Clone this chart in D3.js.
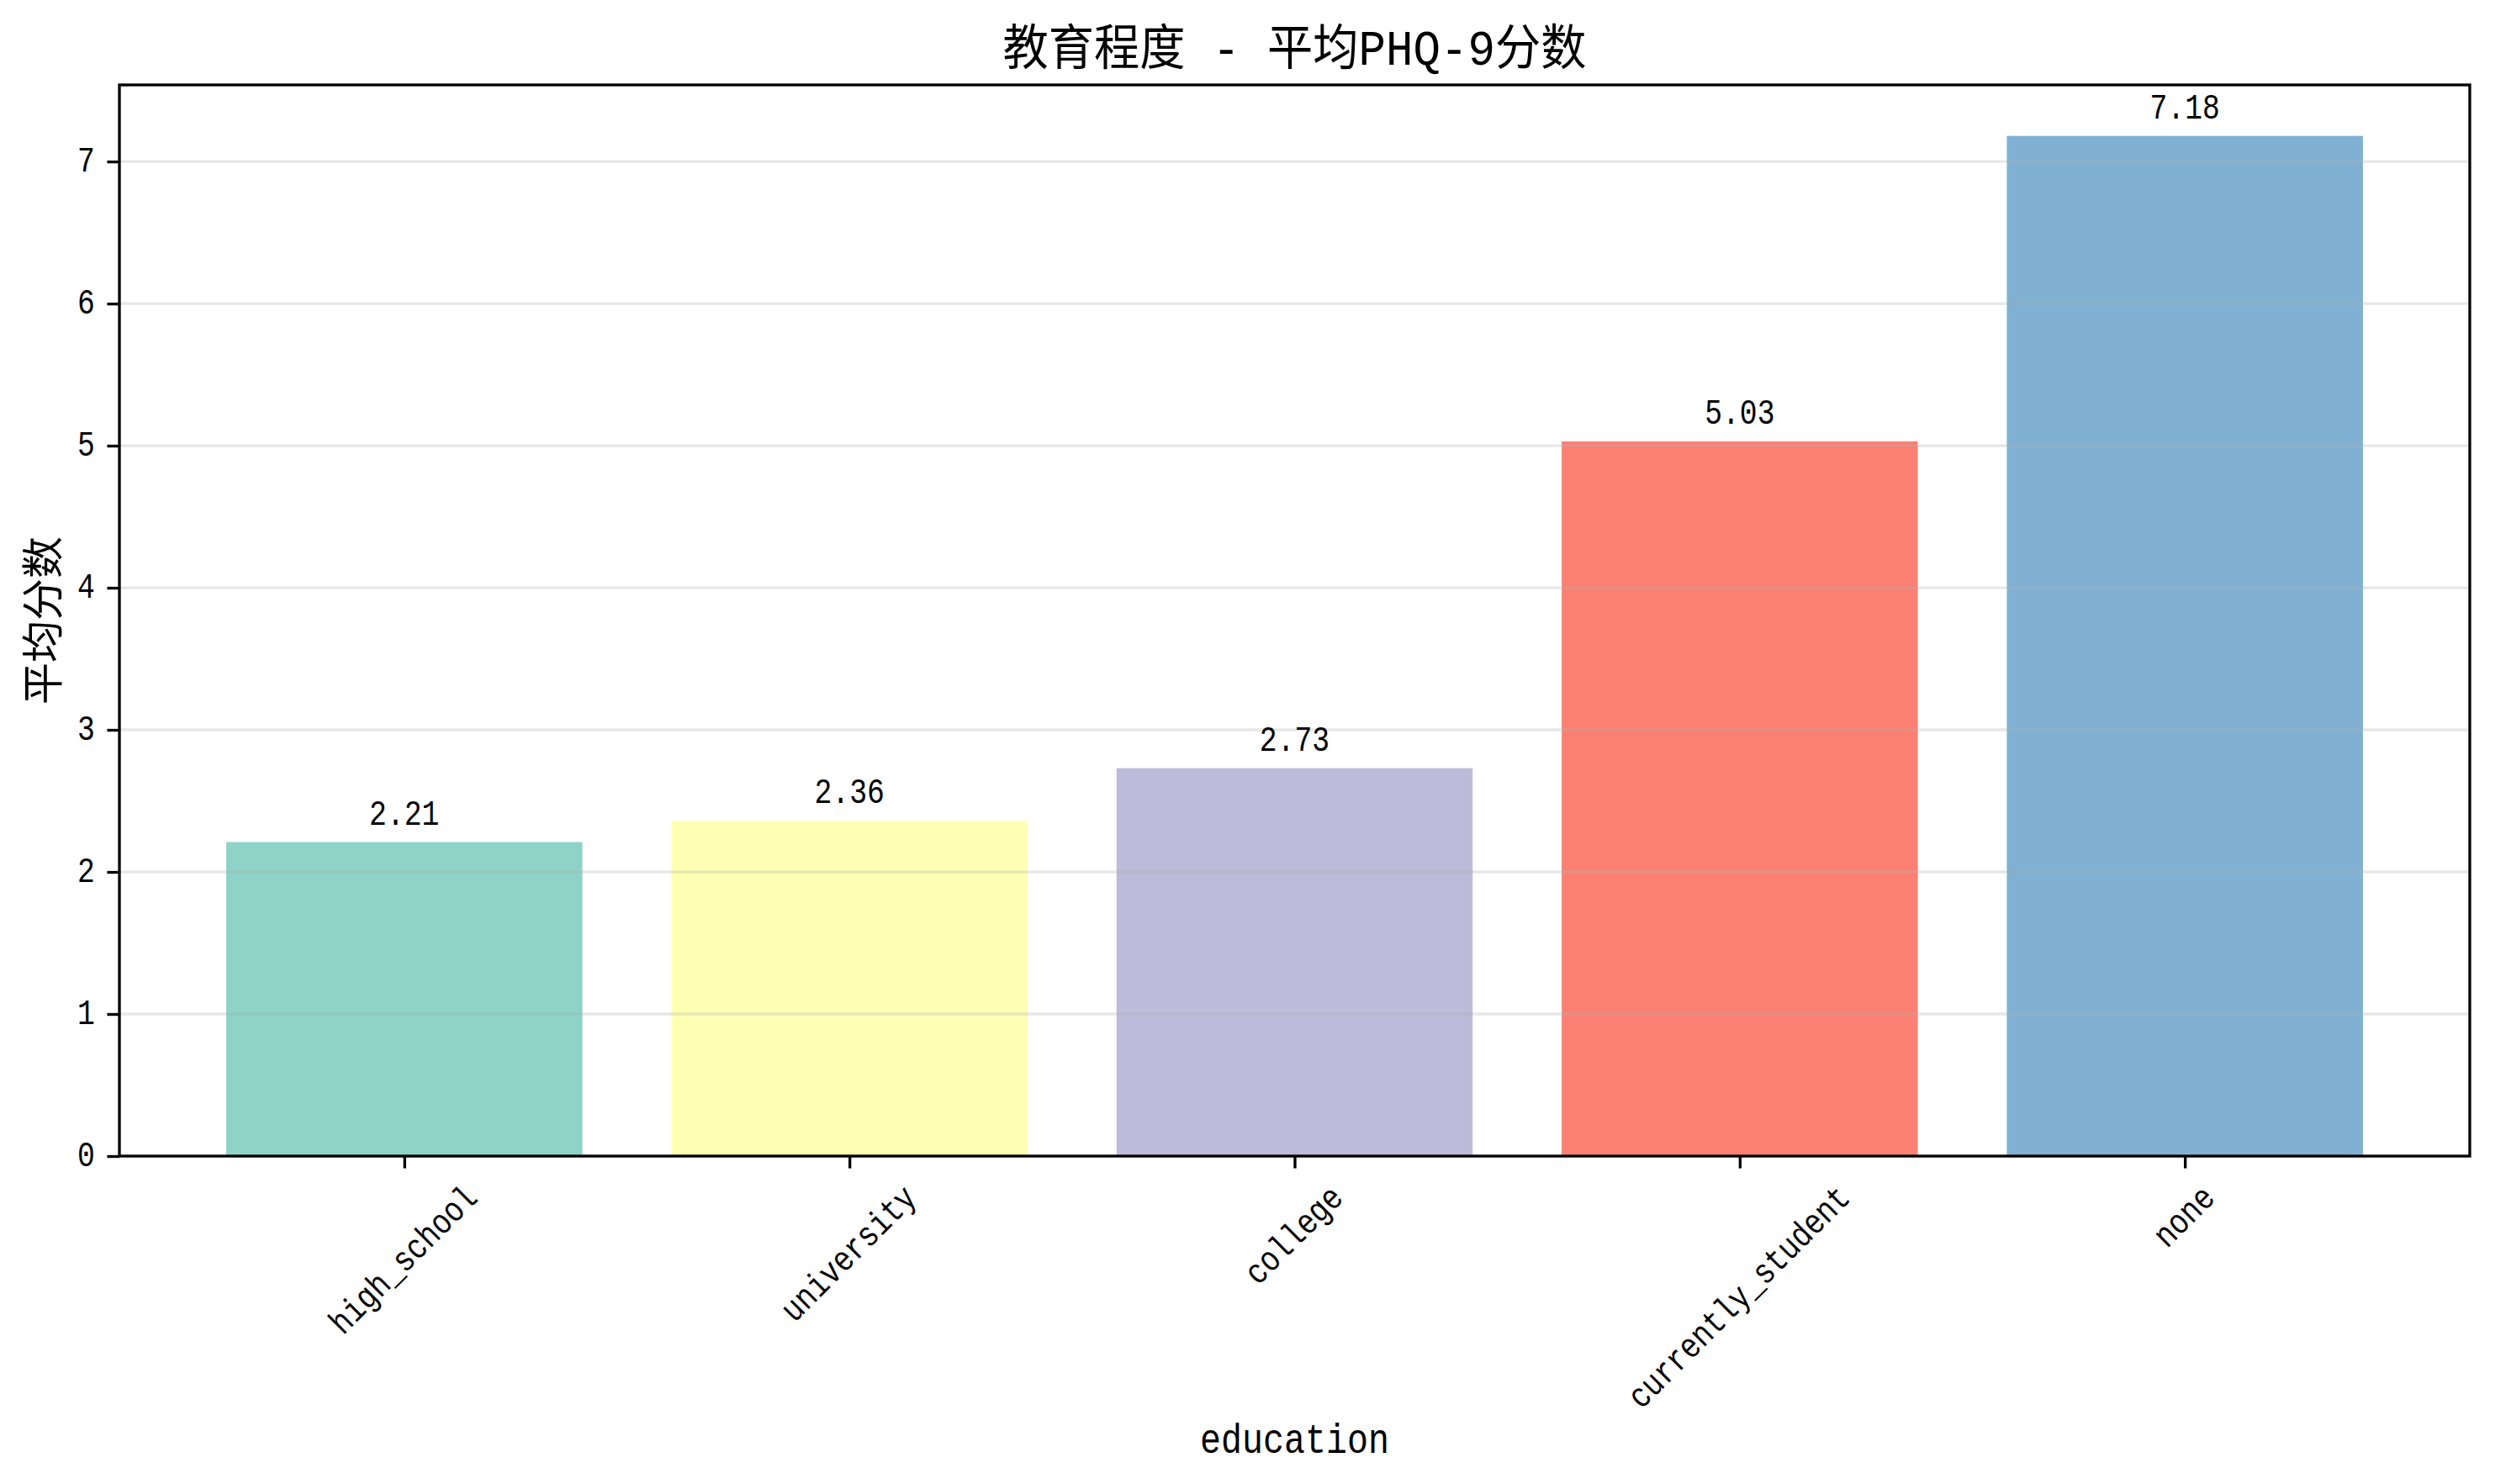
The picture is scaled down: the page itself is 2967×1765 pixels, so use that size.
<!DOCTYPE html>
<html><head><meta charset="utf-8">
<script src="https://cdn.jsdelivr.net/npm/d3@7/dist/d3.min.js"></script>
<style>body{margin:0;background:#fff}svg{display:block}</style>
</head><body><svg id="c"></svg>
<script>
const categories = ["high_school", "university", "college", "currently_student", "none"];
const values = [2.21, 2.36, 2.73, 5.03, 7.18];
const colors = ["#8dd3c7", "#ffffb3", "#bebada", "#fb8072", "#80b1d3"];
const yTicks = [0, 1, 2, 3, 4, 5, 6, 7];
const titleText = "教育程度 - 平均PHQ-9分数";
const xLabelText = "education";
const yLabelText = "平均分数";

const W = 2967, H = 1765;
const pt = 300 / 72;
const m = {left: 142, right: 2937, top: 101, bottom: 1375};
const LATIN = "'Liberation Mono','DejaVu Sans Mono','Noto Sans CJK SC',monospace";
const CJK = "'Liberation Mono','Noto Sans CJK SC','Noto Sans CJK JP',sans-serif";

const svg = d3.select("#c").attr("width", W).attr("height", H);
svg.append("rect").attr("width", W).attr("height", H).attr("fill", "#fff");

const x = d3.scaleLinear().domain([-0.64, categories.length - 1 + 0.64]).range([m.left, m.right]);
const y = d3.scaleLinear().domain([0, d3.max(values) * 1.05]).range([m.bottom, m.top]);

function latin(sel, size) {
  sel.attr("font-family", LATIN).attr("font-size", size)
    .attr("textLength", function() { return this.textContent.length * size * 0.5; })
    .attr("lengthAdjust", "spacingAndGlyphs");
  return sel;
}

// bars
svg.append("g").selectAll("rect").data(values).join("rect")
  .attr("x", (d, i) => x(i - 0.4))
  .attr("width", (d, i) => x(i + 0.4) - x(i - 0.4))
  .attr("y", d => y(d))
  .attr("height", d => y(0) - y(d))
  .attr("fill", (d, i) => colors[i]);

// grid (drawn above bars as in matplotlib)
svg.append("g").selectAll("line").data(yTicks).join("line")
  .attr("x1", m.left).attr("x2", m.right)
  .attr("y1", d => y(d)).attr("y2", d => y(d))
  .attr("stroke", "#b0b0b0").attr("stroke-opacity", 0.3).attr("stroke-width", 0.8 * pt);

// axes
const tickLen = 3.5 * pt, pad = 3.5 * pt, fs = 10 * pt;
const yAxis = svg.append("g").attr("transform", `translate(${m.left},0)`)
  .call(d3.axisLeft(y).tickValues(yTicks).tickSize(tickLen).tickFormat(d3.format("d")));
yAxis.select(".domain").remove();
yAxis.selectAll(".tick line").attr("stroke", "#000").attr("stroke-width", 0.8 * pt);
yAxis.selectAll(".tick text").attr("x", -(tickLen + pad)).attr("dy", null)
  .attr("dominant-baseline", "central").attr("text-anchor", "end").attr("fill", "#000")
  .call(latin, fs);

const xAxis = svg.append("g").attr("transform", `translate(0,${m.bottom})`)
  .call(d3.axisBottom(x).tickValues(d3.range(categories.length)).tickSize(tickLen).tickFormat(i => categories[i]));
xAxis.select(".domain").remove();
xAxis.selectAll(".tick line").attr("stroke", "#000").attr("stroke-width", 0.8 * pt);
xAxis.selectAll(".tick text").each(function(i) {
  const t = d3.select(this);
  const w = categories[i].length * fs * 0.5;
  const h = fs * 1.0;
  const half = (w + h) / (2 * Math.SQRT2);
  t.attr("y", null).attr("dy", null).attr("fill", "#000")
   .attr("text-anchor", "middle").attr("dominant-baseline", "central")
   .attr("transform", `translate(0,${tickLen + pad + half}) rotate(-45)`);
}).call(latin, fs);

// spines
svg.append("rect").attr("x", m.left).attr("y", m.top)
  .attr("width", m.right - m.left).attr("height", m.bottom - m.top)
  .attr("fill", "none").attr("stroke", "#000").attr("stroke-width", 0.8 * pt);

// value labels
svg.append("g").selectAll("text").data(values).join("text")
  .attr("x", (d, i) => x(i)).attr("y", d => y(d) - 21)
  .attr("text-anchor", "middle").attr("fill", "#000")
  .text(d => d.toFixed(2))
  .call(latin, fs);

// title
svg.append("text").attr("x", (m.left + m.right) / 2).attr("y", 77)
  .attr("text-anchor", "middle").attr("font-family", CJK).attr("font-size", 14 * pt)
  .attr("textLength", 694).attr("lengthAdjust", "spacingAndGlyphs")
  .attr("fill", "#000").text(titleText);

// x label
svg.append("text").attr("x", (m.left + m.right) / 2).attr("y", 1728)
  .attr("text-anchor", "middle").attr("fill", "#000").text(xLabelText)
  .call(latin, 12 * pt);

// y label
svg.append("text").attr("transform", `translate(55,${(m.top + m.bottom) / 2}) rotate(-90)`)
  .attr("text-anchor", "middle").attr("dominant-baseline", "central")
  .attr("font-family", CJK).attr("font-size", 12 * pt).attr("fill", "#000").text(yLabelText);
</script>
</body></html>
